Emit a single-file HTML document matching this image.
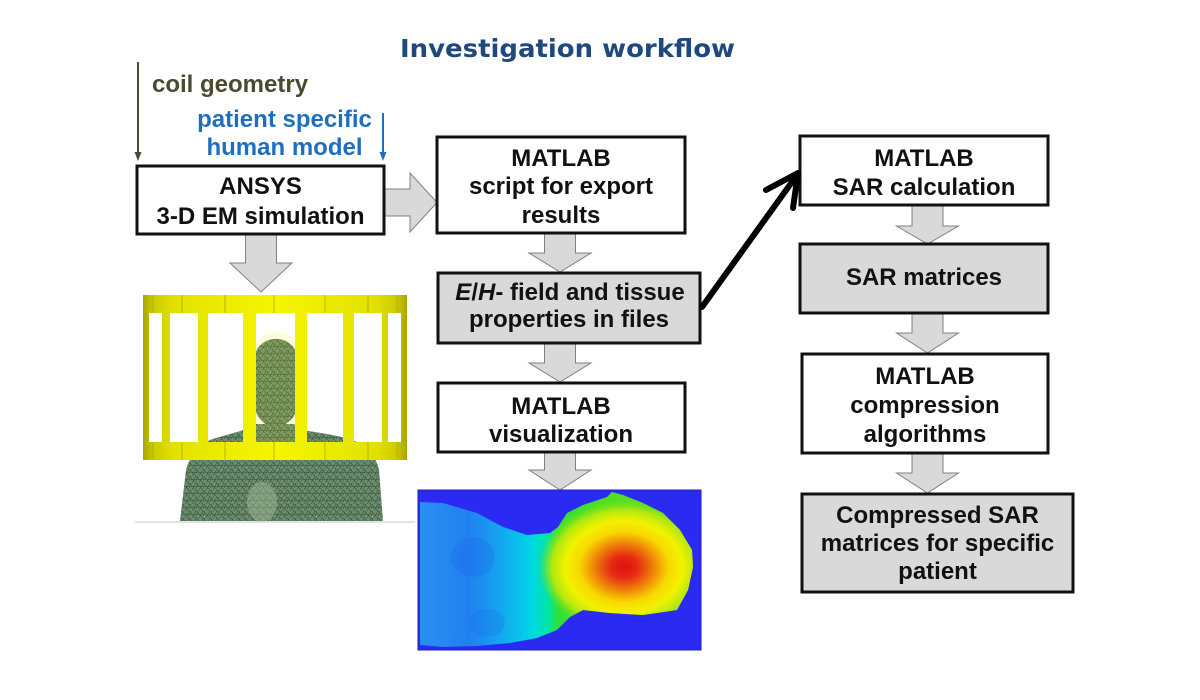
<!DOCTYPE html>
<html>
<head>
<meta charset="utf-8">
<style>
  html, body { margin: 0; padding: 0; background: #ffffff; }
  body { width: 1200px; height: 700px; overflow: hidden; }
  svg { display: block; }
  .t { font-family: "Liberation Sans", Arial, sans-serif; font-weight: bold; font-size: 24px; fill: #111; }
</style>
</head>
<body>
<svg width="1200" height="700" viewBox="0 0 1200 700" xmlns="http://www.w3.org/2000/svg">
  <defs>
    <linearGradient id="cage" gradientUnits="userSpaceOnUse" x1="143" y1="0" x2="407" y2="0">
      <stop offset="0" stop-color="#a8a400"/>
      <stop offset="0.04" stop-color="#cccc00"/>
      <stop offset="0.12" stop-color="#e2e200"/>
      <stop offset="0.5" stop-color="#f6f600"/>
      <stop offset="0.88" stop-color="#e2e200"/>
      <stop offset="0.96" stop-color="#cccc00"/>
      <stop offset="1" stop-color="#a8a400"/>
    </linearGradient>
    <pattern id="mesh" width="7" height="7" patternUnits="userSpaceOnUse">
      <rect width="7" height="7" fill="#6e8e70"/>
      <path d="M0 0 L7 7 M7 0 L3 7 M0 3.5 L7 3.5 M2 0 L0 5" stroke="#3a543e" stroke-width="0.6" fill="none"/>
    </pattern>
    <linearGradient id="heatL" gradientUnits="userSpaceOnUse" x1="418" y1="0" x2="700" y2="0">
      <stop offset="0" stop-color="#2a90f2"/>
      <stop offset="0.18" stop-color="#2180f0"/>
      <stop offset="0.30" stop-color="#14a8f0"/>
      <stop offset="0.40" stop-color="#00d6e6"/>
      <stop offset="0.46" stop-color="#00e6a8"/>
      <stop offset="0.50" stop-color="#30e034"/>
      <stop offset="0.65" stop-color="#50de22"/>
      <stop offset="1" stop-color="#66e020"/>
    </linearGradient>
    <radialGradient id="hot" cx="0.5" cy="0.5" r="0.5">
      <stop offset="0" stop-color="#e01010"/>
      <stop offset="0.16" stop-color="#e42a12"/>
      <stop offset="0.36" stop-color="#f08a08"/>
      <stop offset="0.52" stop-color="#f8d800"/>
      <stop offset="0.68" stop-color="#f2f200"/>
      <stop offset="0.84" stop-color="#b0e810"/>
      <stop offset="1" stop-color="#60e020" stop-opacity="0"/>
    </radialGradient>
    <clipPath id="heatClip">
      <path d="M420 502 L443 503 L477 513 L503 527 L527 535 L550 533 L558 527 L567 513 L583 505 L607 497 L612 492 L623 495 L643 503 L663 513 L680 530 L692 550 L693 567 L688 590 L677 610 L643 615 L610 613 L583 610 L570 617 L557 630 L537 638 L510 643 L477 646 L443 647 L420 645 Z"/>
    </clipPath>
  </defs>

  <!-- Title -->
  <text x="400" y="57" textLength="335" lengthAdjust="spacingAndGlyphs"
        style="font-family:'DejaVu Sans','Liberation Sans',sans-serif;font-weight:bold;font-size:25px;fill:#1f497d;">Investigation workflow</text>

  <!-- coil geometry -->
  <line x1="138" y1="62" x2="138" y2="153" stroke="#4a4a30" stroke-width="2"/>
  <polygon points="134.5,152 141.5,152 138,161" fill="#4a4a30"/>
  <text class="t" x="152" y="92" style="fill:#4a4a30">coil geometry</text>

  <!-- patient specific -->
  <text class="t" x="284.5" y="127" text-anchor="middle" style="fill:#1f6fc1">patient specific</text>
  <text class="t" x="284.5" y="155" text-anchor="middle" style="fill:#1f6fc1">human model</text>
  <line x1="383" y1="113" x2="383" y2="153" stroke="#1f6fc1" stroke-width="2"/>
  <polygon points="379.5,152 386.5,152 383,161" fill="#1f6fc1"/>

  <!-- Gray block arrows -->
  <g fill="#d9d9d9" stroke="#808080" stroke-width="1">
    <polygon points="384,189 410,189 410,173 437,202.5 410,232 410,216 384,216"/>
    <polygon points="544.5,233 575.5,233 575.5,253 591,253 560,272 529,253 544.5,253"/>
    <polygon points="544.5,343 575.5,343 575.5,363 591,363 560,382 529,363 544.5,363"/>
    <polygon points="544.5,452 575.5,452 575.5,470 591,470 560,490 529,470 544.5,470"/>
    <polygon points="245.5,234 276.5,234 276.5,263 292,263 261,292 230,263 245.5,263"/>
    <polygon points="912,205 943,205 943,226 958.5,226 927.5,244 896.5,226 912,226"/>
    <polygon points="912,313 943,313 943,333 958.5,333 927.5,353 896.5,333 912,333"/>
    <polygon points="912,453 943,453 943,473 958.5,473 927.5,493 896.5,473 912,473"/>
  </g>

  <!-- Boxes -->
  <g stroke="#111" stroke-width="3">
    <rect x="137" y="166" width="247" height="68" fill="#ffffff"/>
    <rect x="437" y="137" width="248" height="96" fill="#ffffff"/>
    <rect x="438" y="273" width="262" height="70" fill="#d9d9d9"/>
    <rect x="438" y="383" width="247" height="69" fill="#ffffff"/>
    <rect x="800" y="136" width="248" height="69" fill="#ffffff"/>
    <rect x="800" y="244" width="248" height="69" fill="#d9d9d9"/>
    <rect x="802" y="354" width="246" height="99" fill="#ffffff"/>
    <rect x="802" y="494" width="271" height="98" fill="#d9d9d9"/>
  </g>

  <!-- Box texts -->
  <g>
    <text class="t" x="260.5" y="194" text-anchor="middle">ANSYS</text>
    <text class="t" x="260.5" y="224" text-anchor="middle">3-D EM simulation</text>

    <text class="t" x="561" y="166" text-anchor="middle">MATLAB</text>
    <text class="t" x="561" y="194" text-anchor="middle">script for export</text>
    <text class="t" x="561" y="223" text-anchor="middle">results</text>

    <text class="t" x="570" y="300" text-anchor="middle"><tspan font-style="italic">E</tspan>/<tspan font-style="italic">H</tspan>- field  and  tissue</text>
    <text class="t" x="569" y="327" text-anchor="middle">properties  in  files</text>

    <text class="t" x="561" y="414" text-anchor="middle">MATLAB</text>
    <text class="t" x="561" y="442" text-anchor="middle">visualization</text>

    <text class="t" x="924" y="166" text-anchor="middle">MATLAB</text>
    <text class="t" x="924" y="195" text-anchor="middle">SAR  calculation</text>

    <text class="t" x="924" y="285" text-anchor="middle">SAR  matrices</text>

    <text class="t" x="925" y="384" text-anchor="middle">MATLAB</text>
    <text class="t" x="925" y="413" text-anchor="middle">compression</text>
    <text class="t" x="925" y="442" text-anchor="middle">algorithms</text>

    <text class="t" x="937.5" y="523" text-anchor="middle">Compressed  SAR</text>
    <text class="t" x="937.5" y="551" text-anchor="middle">matrices  for  specific</text>
    <text class="t" x="937.5" y="579" text-anchor="middle">patient</text>
  </g>

  <!-- Black connector arrow -->
  <g stroke="#000" stroke-width="6" stroke-linecap="round" stroke-linejoin="round" fill="none">
    <line x1="702" y1="307" x2="797" y2="175"/>
    <polyline points="766,190 798,173 793,208"/>
  </g>

  <!-- Human body (behind cage) -->
  <line x1="135" y1="522" x2="415" y2="522" stroke="#d8d8d8" stroke-width="1.5"/>
  <path d="M256 424 L294 424 L302 430 C322 433 340 436 352 440 C367 446 376 456 379 470 L383 521 L180 521 L186 470 C190 455 200 446 210 440 C228 434 246 431 256 424 Z" fill="url(#mesh)"/>
  <path d="M276 339 C291 339 300 351 300 371 L303 377 L305 392 L300 398 C299 412 292 422 281 426 L269 426 C259 422 253 410 252 395 L252 371 C252 351 261 339 276 339 Z" fill="url(#mesh)"/>
  <ellipse cx="262" cy="502" rx="15" ry="20" fill="#a8c0a0" opacity="0.45"/>

  <!-- Cage -->
  <g fill="url(#cage)">
    <rect x="143" y="295" width="264" height="18"/>
    <rect x="143" y="442" width="264" height="18"/>
    <rect x="143" y="313" width="6" height="129"/>
    <rect x="162" y="313" width="8" height="129"/>
    <rect x="198" y="313" width="10" height="129"/>
    <rect x="243" y="313" width="13" height="129"/>
    <rect x="295" y="313" width="12" height="129"/>
    <rect x="343" y="313" width="11" height="129"/>
    <rect x="382" y="313" width="6" height="129"/>
    <rect x="401" y="313" width="6" height="129"/>
  </g>
  <g stroke="#b8b400" stroke-width="1">
    <line x1="153" y1="295" x2="153" y2="313"/>
    <line x1="182" y1="295" x2="182" y2="313"/>
    <line x1="225" y1="295" x2="225" y2="313"/>
    <line x1="274" y1="295" x2="274" y2="313"/>
    <line x1="325" y1="295" x2="325" y2="313"/>
    <line x1="368" y1="295" x2="368" y2="313"/>
    <line x1="397" y1="295" x2="397" y2="313"/>
    <line x1="153" y1="442" x2="153" y2="460"/>
    <line x1="182" y1="442" x2="182" y2="460"/>
    <line x1="225" y1="442" x2="225" y2="460"/>
    <line x1="274" y1="442" x2="274" y2="460"/>
    <line x1="325" y1="442" x2="325" y2="460"/>
    <line x1="368" y1="442" x2="368" y2="460"/>
    <line x1="397" y1="442" x2="397" y2="460"/>
  </g>
  <path d="M247 442 L247 372 C247 345 262 332 277 332 C292 332 307 345 307 372 L307 442 Z" fill="#f0f000" opacity="0.14"/>

  <!-- Heatmap -->
  <rect x="418" y="490" width="283" height="160" fill="#2a2af2" stroke="#2020b0" stroke-width="1"/>
  <g clip-path="url(#heatClip)">
    <rect x="418" y="490" width="283" height="160" fill="url(#heatL)"/>
    <ellipse cx="473" cy="557" rx="22" ry="20" fill="#1a5ae8" opacity="0.22"/>
    <ellipse cx="487" cy="623" rx="18" ry="14" fill="#1a5ae8" opacity="0.18"/>
    <ellipse cx="624" cy="567" rx="86" ry="68" fill="url(#hot)"/>
  </g>
</svg>
</body>
</html>
